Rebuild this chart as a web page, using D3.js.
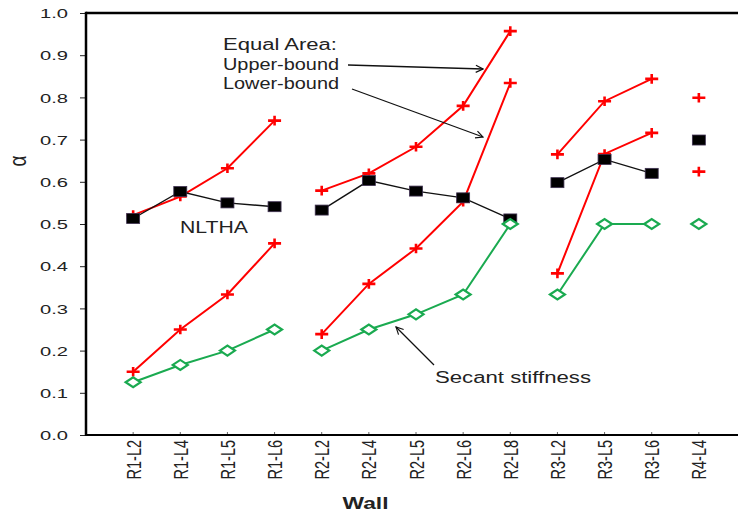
<!DOCTYPE html>
<html>
<head>
<meta charset="utf-8">
<script src="https://cdn.jsdelivr.net/npm/d3@7"></script>
<style>
  body { margin: 0; background: #fff; }
  text { font-family: "Liberation Sans", Arial, sans-serif; fill: #222; }
</style>
</head>
<body>
<div id="chart"></div>
<script>
// walls on the x axis
var walls = ["R1-L2", "R1-L4", "R1-L5", "R1-L6", "R2-L2", "R2-L4", "R2-L5", "R2-L6", "R2-L8", "R3-L2", "R3-L5", "R3-L6", "R4-L4"];

// alpha values per method
var upperBound = [0.521, 0.565, 0.632, 0.745, 0.579, 0.620, 0.683, 0.780, 0.957, 0.665, 0.791, 0.844, 0.799];
var lowerBound = [0.150, 0.250, 0.333, 0.454, 0.239, 0.358, 0.442, 0.553, 0.834, 0.383, 0.666, 0.716, 0.624];
var nltha = [0.513, 0.577, 0.550, 0.541, 0.533, 0.603, 0.578, 0.562, 0.512, 0.598, 0.653, 0.620, 0.699];
var secant = [0.125, 0.166, 0.200, 0.250, 0.200, 0.250, 0.286, 0.333, 0.500, 0.333, 0.500, 0.500, 0.500];

var yTicks = [0, 0.1, 0.2, 0.3, 0.4, 0.5, 0.6, 0.7, 0.8, 0.9, 1.0];

var W = 738, H = 514;
var plotLeft = 86, plotTop = 13, plotBottom = 435, plotRight = 746;
var sx = 1.45; // the source picture is stretched sideways

var svg = d3.select("#chart").append("svg")
  .attr("width", W).attr("height", H);

var defs = svg.append("defs");
defs.append("marker")
  .attr("id", "arrow")
  .attr("viewBox", "0 0 10 10")
  .attr("refX", 9).attr("refY", 5)
  .attr("markerWidth", 9).attr("markerHeight", 9)
  .attr("markerUnits", "userSpaceOnUse")
  .attr("orient", "auto")
  .append("path")
  .attr("d", "M1,1L9,5L1,9")
  .attr("fill", "none")
  .attr("stroke", "#111")
  .attr("stroke-width", 1.3);

var x = d3.scalePoint().domain(walls).range([plotLeft, plotRight]).padding(1);
var y = d3.scaleLinear().domain([0, 1]).range([plotBottom, plotTop]);

// y axis ticks + labels
var yAxis = d3.axisLeft(y)
  .tickValues(yTicks)
  .tickSize(6)
  .tickFormat(d3.format(".1f"));

var gy = svg.append("g")
  .attr("transform", "translate(" + plotLeft + ",0)")
  .call(yAxis);
gy.select(".domain").remove();
gy.selectAll(".tick line").attr("stroke", "#222");
gy.selectAll(".tick text")
  .attr("x", -18 / 1.55)
  .attr("dy", "0.36em")
  .attr("transform", "scale(1.55,1)")
  .style("font-size", "13px")
  .style("font-family", "Liberation Sans, Arial, sans-serif")
  .attr("fill", "#222");

// small inward ticks on the x axis
svg.append("g").selectAll("line")
  .data(walls)
  .join("line")
  .attr("x1", function(d) { return x(d); })
  .attr("x2", function(d) { return x(d); })
  .attr("y1", plotBottom)
  .attr("y2", plotBottom - 3)
  .attr("stroke", "#666")
  .attr("stroke-width", 1);

// x labels, rotated
svg.append("g").selectAll("text")
  .data(walls)
  .join("text")
  .attr("transform", function(d) { return "translate(" + x(d) + ",440) scale(" + sx + ",1) rotate(-90)"; })
  .attr("text-anchor", "end")
  .attr("dy", "0.36em")
  .style("font-size", "14.5px")
  .attr("fill", "#333")
  .text(function(d) { return d; });

// frame
svg.append("line").attr("x1", plotLeft).attr("x2", W).attr("y1", plotTop).attr("y2", plotTop)
  .attr("stroke", "#000").attr("stroke-width", 2.5);
svg.append("line").attr("x1", plotLeft).attr("x2", plotLeft).attr("y1", plotTop - 1.2).attr("y2", plotBottom + 1)
  .attr("stroke", "#000").attr("stroke-width", 2.5);
svg.append("line").attr("x1", plotLeft).attr("x2", W).attr("y1", plotBottom).attr("y2", plotBottom)
  .attr("stroke", "#000").attr("stroke-width", 2);

// axis titles
svg.append("text")
  .attr("transform", "translate(26,161) scale(1.25,1) rotate(-90)")
  .attr("text-anchor", "middle")
  .style("font-size", "19px")
  .attr("fill", "#222")
  .text("α");

svg.append("text")
  .attr("transform", "translate(365.5,509) scale(1.34,1)")
  .attr("text-anchor", "middle")
  .style("font-size", "17px")
  .style("font-weight", "bold")
  .attr("fill", "#222")
  .text("Wall");

// series: lines are broken between wall groups R1, R2, R3, R4
function group(w) { return w.split("-")[0]; }

var series = [
  { name: "upper", values: upperBound, color: "#ff0000", width: 2, shape: "plus" },
  { name: "lower", values: lowerBound, color: "#ff0000", width: 2, shape: "plus" },
  { name: "nltha", values: nltha, color: "#111", width: 1.4, shape: "square" },
  { name: "secant", values: secant, color: "#1aaa50", width: 2, shape: "diamond" }
];

var line = d3.line()
  .x(function(d) { return x(d.wall); })
  .y(function(d) { return y(d.v); });

series.forEach(function(s) {
  var pts = walls.map(function(w, i) { return { wall: w, v: s.values[i] }; });
  var groups = d3.groups(pts, function(d) { return group(d.wall); });
  var g = svg.append("g").attr("class", s.name);

  g.selectAll("path.line")
    .data(groups.filter(function(gr) { return gr[1].length > 1; }))
    .join("path")
    .attr("class", "line")
    .attr("d", function(gr) { return line(gr[1]); })
    .attr("fill", "none")
    .attr("stroke", s.color)
    .attr("stroke-width", s.width);

  var m = g.selectAll("g.pt")
    .data(pts)
    .join("g")
    .attr("class", "pt")
    .attr("transform", function(d) { return "translate(" + x(d.wall) + "," + y(d.v) + ")"; });

  if (s.shape == "plus") {
    m.append("path")
      .attr("d", "M-6.5,0H6.5M0,-4.8V4.8")
      .attr("stroke", s.color)
      .attr("stroke-width", 2.6);
  } else if (s.shape == "square") {
    m.append("rect")
      .attr("x", -6.5).attr("y", -5)
      .attr("width", 13).attr("height", 10)
      .attr("fill", "#000")
      .attr("stroke", "#3f3151")
      .attr("stroke-width", 0.8);
  } else {
    m.append("path")
      .attr("d", "M-7.5,0L0,-5L7.5,0L0,5Z")
      .attr("fill", "#fff")
      .attr("stroke", s.color)
      .attr("stroke-width", 2.2);
  }
});

// annotations
var notes = [
  { t: "Equal Area:", x: 223, y: 50, w: 114 },
  { t: "Upper-bound", x: 223, y: 70, w: 116 },
  { t: "Lower-bound", x: 223, y: 89, w: 116 },
  { t: "NLTHA", x: 180, y: 233, w: 68 },
  { t: "Secant stiffness", x: 435, y: 383, w: 156 }
];
svg.append("g").selectAll("text")
  .data(notes)
  .join("text")
  .attr("x", function(d) { return d.x; })
  .attr("y", function(d) { return d.y; })
  .attr("textLength", function(d) { return d.w; })
  .attr("lengthAdjust", "spacingAndGlyphs")
  .style("font-size", "16px")
  .attr("fill", "#333")
  .text(function(d) { return d.t; });

var arrows = [
  [348, 65, 483, 69],
  [352, 89, 483, 137],
  [434, 365, 396, 327]
];
svg.append("g").selectAll("line")
  .data(arrows)
  .join("line")
  .attr("x1", function(d) { return d[0]; })
  .attr("y1", function(d) { return d[1]; })
  .attr("x2", function(d) { return d[2]; })
  .attr("y2", function(d) { return d[3]; })
  .attr("stroke", "#111")
  .attr("stroke-width", 1.3)
  .attr("marker-end", "url(#arrow)");
</script>
</body>
</html>
